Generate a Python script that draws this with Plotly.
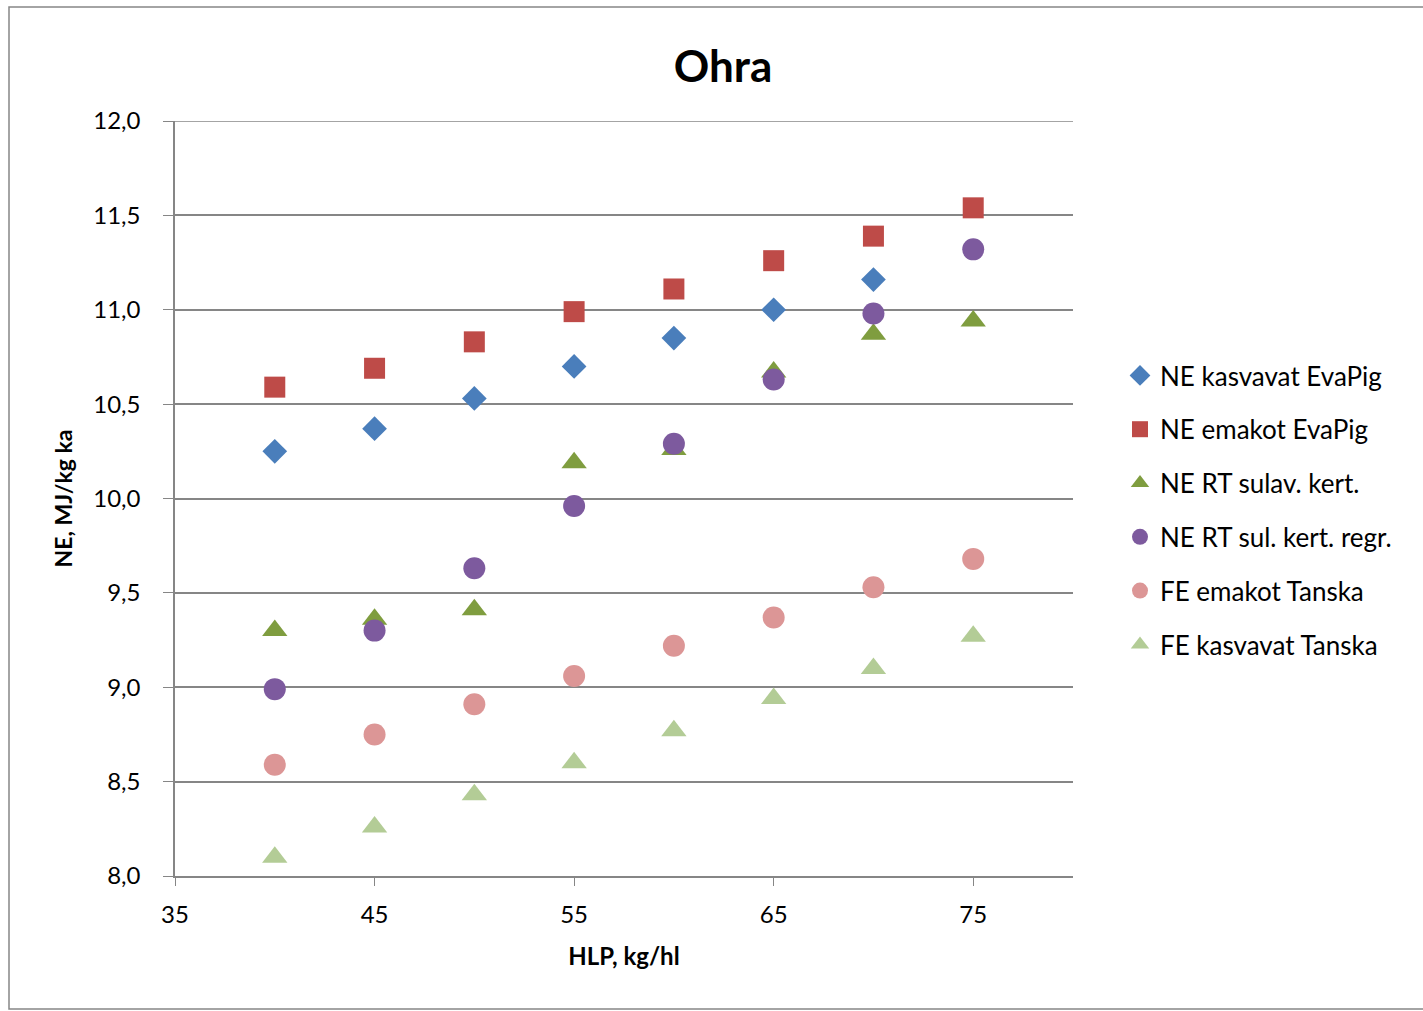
import plotly.graph_objects as go

hlp = [40, 45, 50, 55, 60, 65, 70, 75]

ne_kasvavat_evapig = [10.25, 10.37, 10.53, 10.70, 10.85, 11.00, 11.16, None]
ne_emakot_evapig = [10.59, 10.69, 10.83, 10.99, 11.11, 11.26, 11.39, 11.54]
ne_rt_sulav_kert = [9.30, 9.36, 9.41, 10.19, 10.26, 10.67, 10.87, 10.94]
ne_rt_sul_kert_regr = [8.99, 9.30, 9.63, 9.96, 10.29, 10.63, 10.98, 11.32]
fe_emakot_tanska = [8.59, 8.75, 8.91, 9.06, 9.22, 9.37, 9.53, 9.68]
fe_kasvavat_tanska = [8.10, 8.26, 8.43, 8.60, 8.77, 8.94, 9.10, 9.27]

x_ticks = [35, 45, 55, 65, 75]
y_ticks = [8.0, 8.5, 9.0, 9.5, 10.0, 10.5, 11.0, 11.5, 12.0]

series = [
    ("NE kasvavat EvaPig", ne_kasvavat_evapig, "diamond", "#4A7EBB", 19),
    ("NE emakot EvaPig", ne_emakot_evapig, "square", "#BE4B48", 21),
    ("NE RT sulav. kert.", ne_rt_sulav_kert, "triangle-up", "#7F9D3F", 22),
    ("NE RT sul. kert. regr.", ne_rt_sul_kert_regr, "circle", "#7D5A9E", 22),
    ("FE emakot Tanska", fe_emakot_tanska, "circle", "#DC9696", 22),
    ("FE kasvavat Tanska", fe_kasvavat_tanska, "triangle-up", "#B3CC96", 22),
]

fig = go.Figure()
for name, vals, sym, col, size in series:
    fig.add_trace(go.Scatter(
        x=hlp, y=vals, mode="markers", name=name, legendgroup=name,
        marker=dict(symbol=sym, color=col, size=size, line=dict(width=0)),
    ))

font_family = "Lato, 'Open Sans', sans-serif"
L, R, T, B = 175, 1073, 121, 876
W, H = R - L, B - T
fig.update_layout(
    width=1423, height=1011,
    margin=dict(l=L, r=1423 - R, t=T, b=1011 - B),
    paper_bgcolor="white", plot_bgcolor="white",
    separators=", ",
    font=dict(family=font_family, color="#000000", size=20),
    title=dict(text="<b>Ohra</b>", x=723 / 1423, xanchor="center",
               y=1 - 67 / 1011, yanchor="middle", font=dict(size=44)),
    legend=dict(x=(1120 - L) / W, y=(B - 352) / H,
                xanchor="left", yanchor="top", font=dict(size=26),
                tracegroupgap=17, itemsizing="trace", bgcolor="rgba(0,0,0,0)",
                itemwidth=30),
    showlegend=True,
)
fig.update_xaxes(
    range=[35, 80], tickvals=x_ticks, tickformat="d",
    showline=True, linecolor="#868686", linewidth=1.5,
    showgrid=False, zeroline=False,
    ticks="outside", ticklen=8, tickcolor="#868686",
    tickfont=dict(size=24), ticklabelstandoff=8,
    title=dict(text="<b>HLP, kg/hl</b>", font=dict(size=24), standoff=22),
)
fig.update_yaxes(
    range=[8.0, 12.0], tickvals=y_ticks, tickformat=".1f",
    showline=True, linecolor="#868686", linewidth=1.5,
    showgrid=True, gridcolor="#868686", gridwidth=1.5, zeroline=False,
    ticks="outside", ticklen=10, tickcolor="#868686",
    tickfont=dict(size=24), ticklabelstandoff=18,
    title=dict(text="<b>NE, MJ/kg ka</b>", font=dict(size=23), standoff=14),
)
# top gridline (plotly omits gridlines at the range edge)
fig.add_shape(type="line", xref="paper", yref="y", x0=0, x1=1,
              y0=y_ticks[-1], y1=y_ticks[-1],
              line=dict(color="#868686", width=1.5), layer="below")
fig.add_shape(type="rect", xref="paper", yref="paper",
              x0=-(L - 9) / W, x1=(1430 - L) / W,
              y0=-(1009 - B) / H, y1=(B - 7) / H,
              line=dict(color="#868686", width=1.5), fillcolor="rgba(0,0,0,0)")

fig.write_html("out.html")
